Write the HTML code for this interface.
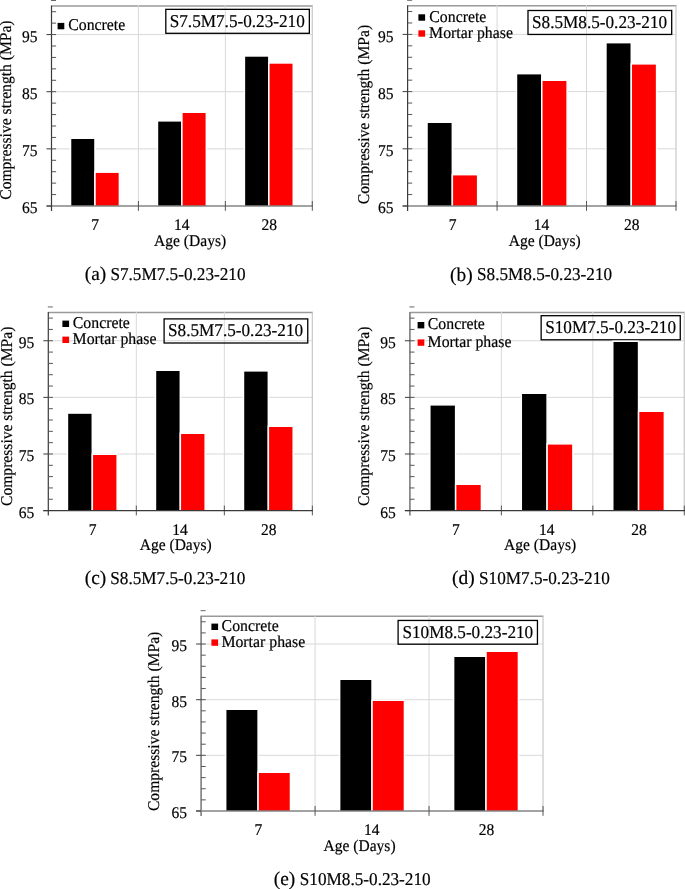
<!DOCTYPE html>
<html><head><meta charset="utf-8"><style>
html,body{margin:0;padding:0;background:#fff;}
svg{display:block;will-change:transform;}
text{font-family:"Liberation Serif", serif;fill:#000;text-rendering:geometricPrecision;stroke:#000;stroke-width:0.18px;}
</style></head><body>
<svg width="685" height="889" viewBox="0 0 685 889">
<rect width="685" height="889" fill="#fff"/>
<line x1="51.5" y1="148.86" x2="312.3" y2="148.86" stroke="#d9d9d9" stroke-width="1"/>
<line x1="51.5" y1="91.71" x2="312.3" y2="91.71" stroke="#d9d9d9" stroke-width="1"/>
<line x1="51.5" y1="34.57" x2="312.3" y2="34.57" stroke="#d9d9d9" stroke-width="1"/>
<line x1="51.5" y1="6" x2="312.8" y2="6" stroke="#9a9a9a" stroke-width="1.6"/>
<line x1="138.43" y1="5.2" x2="138.43" y2="206" stroke="#d9d9d9" stroke-width="1"/>
<line x1="225.37" y1="5.2" x2="225.37" y2="206" stroke="#d9d9d9" stroke-width="1"/>
<line x1="312.3" y1="6" x2="312.3" y2="206" stroke="#cccccc" stroke-width="1.3"/>
<rect x="165.8" y="9.35" width="143.55" height="23.95" fill="none" stroke="#000" stroke-width="1.3"/>
<text transform="translate(169.68,27) scale(1,1.05)" font-size="17.2">S7.5M7.5-0.23-210</text>
<rect x="70.53" y="138.25" width="24.44" height="68.5" fill="#000" stroke="#fff" stroke-width="1.5"/>
<rect x="94.97" y="172.15" width="24.44" height="34.6" fill="#ff0000" stroke="#fff" stroke-width="1.5"/>
<rect x="157.46" y="120.85" width="24.44" height="85.9" fill="#000" stroke="#fff" stroke-width="1.5"/>
<rect x="181.9" y="112.25" width="24.44" height="94.5" fill="#ff0000" stroke="#fff" stroke-width="1.5"/>
<rect x="244.4" y="55.95" width="24.44" height="150.8" fill="#000" stroke="#fff" stroke-width="1.5"/>
<rect x="268.83" y="62.95" width="24.44" height="143.8" fill="#ff0000" stroke="#fff" stroke-width="1.5"/>
<line x1="46.5" y1="206" x2="312.9" y2="206" stroke="#858585" stroke-width="1.7"/>
<line x1="138.43" y1="201" x2="138.43" y2="210.8" stroke="#555" stroke-width="1"/>
<line x1="225.37" y1="201" x2="225.37" y2="210.8" stroke="#555" stroke-width="1"/>
<line x1="312.3" y1="201" x2="312.3" y2="210.8" stroke="#555" stroke-width="1"/>
<line x1="51.5" y1="5.5" x2="51.5" y2="211" stroke="#3a3a3a" stroke-width="1.2"/>
<line x1="46.5" y1="206" x2="51.5" y2="206" stroke="#3a3a3a" stroke-width="1"/>
<line x1="46.5" y1="148.86" x2="51.5" y2="148.86" stroke="#3a3a3a" stroke-width="1"/>
<line x1="46.5" y1="91.71" x2="51.5" y2="91.71" stroke="#3a3a3a" stroke-width="1"/>
<line x1="46.5" y1="34.57" x2="51.5" y2="34.57" stroke="#3a3a3a" stroke-width="1"/>
<line x1="51.5" y1="194.57" x2="56.1" y2="194.57" stroke="#555" stroke-width="1"/>
<line x1="51.5" y1="183.14" x2="56.1" y2="183.14" stroke="#555" stroke-width="1"/>
<line x1="51.5" y1="171.71" x2="56.1" y2="171.71" stroke="#555" stroke-width="1"/>
<line x1="51.5" y1="160.29" x2="56.1" y2="160.29" stroke="#555" stroke-width="1"/>
<line x1="51.5" y1="148.86" x2="56.1" y2="148.86" stroke="#555" stroke-width="1"/>
<line x1="51.5" y1="137.43" x2="56.1" y2="137.43" stroke="#555" stroke-width="1"/>
<line x1="51.5" y1="126" x2="56.1" y2="126" stroke="#555" stroke-width="1"/>
<line x1="51.5" y1="114.57" x2="56.1" y2="114.57" stroke="#555" stroke-width="1"/>
<line x1="51.5" y1="103.14" x2="56.1" y2="103.14" stroke="#555" stroke-width="1"/>
<line x1="51.5" y1="91.71" x2="56.1" y2="91.71" stroke="#555" stroke-width="1"/>
<line x1="51.5" y1="80.29" x2="56.1" y2="80.29" stroke="#555" stroke-width="1"/>
<line x1="51.5" y1="68.86" x2="56.1" y2="68.86" stroke="#555" stroke-width="1"/>
<line x1="51.5" y1="57.43" x2="56.1" y2="57.43" stroke="#555" stroke-width="1"/>
<line x1="51.5" y1="46" x2="56.1" y2="46" stroke="#555" stroke-width="1"/>
<line x1="51.5" y1="34.57" x2="56.1" y2="34.57" stroke="#555" stroke-width="1"/>
<line x1="51.5" y1="23.14" x2="56.1" y2="23.14" stroke="#555" stroke-width="1"/>
<line x1="51.5" y1="11.71" x2="56.1" y2="11.71" stroke="#555" stroke-width="1"/>
<line x1="51" y1="0.5" x2="56" y2="0.5" stroke="#666" stroke-width="1"/>
<text transform="translate(21.91,213) scale(1,1.05)" font-size="15.55">65</text>
<text transform="translate(21.91,156) scale(1,1.05)" font-size="15.55">75</text>
<text transform="translate(21.91,99) scale(1,1.05)" font-size="15.55">85</text>
<text transform="translate(21.91,42) scale(1,1.05)" font-size="15.55">95</text>
<text transform="translate(91.36,230) scale(1,1.05)" font-size="15.55">7</text>
<text transform="translate(173.9,230) scale(1,1.05)" font-size="15.55">14</text>
<text transform="translate(261.51,230) scale(1,1.05)" font-size="15.55">28</text>
<text transform="translate(154.06,246) scale(1,1.05)" font-size="15.55">Age (Days)</text>
<text transform="translate(11.04,199.76) rotate(-90) scale(1,1.05)" font-size="15.6">Compressive strength (MPa)</text>
<rect x="57.6" y="22.9" width="6.7" height="6.4" fill="#000"/>
<text transform="translate(68.22,30) scale(1,1.05)" font-size="15.8">Concrete</text>
<text transform="translate(84.67,280) scale(1,1.0)" font-size="19.4">(a)</text>
<text transform="translate(110.38,280) scale(1,1.05)" font-size="17.2">S7.5M7.5-0.23-210</text>
<line x1="407.6" y1="148.8" x2="676" y2="148.8" stroke="#d9d9d9" stroke-width="1"/>
<line x1="407.6" y1="91.6" x2="676" y2="91.6" stroke="#d9d9d9" stroke-width="1"/>
<line x1="407.6" y1="34.4" x2="676" y2="34.4" stroke="#d9d9d9" stroke-width="1"/>
<line x1="407.6" y1="5.8" x2="676.5" y2="5.8" stroke="#9a9a9a" stroke-width="1.6"/>
<line x1="497.07" y1="5" x2="497.07" y2="206" stroke="#d9d9d9" stroke-width="1"/>
<line x1="586.53" y1="5" x2="586.53" y2="206" stroke="#d9d9d9" stroke-width="1"/>
<line x1="676" y1="5.8" x2="676" y2="206" stroke="#cccccc" stroke-width="1.3"/>
<rect x="528" y="10.5" width="143.7" height="23.95" fill="none" stroke="#000" stroke-width="1.3"/>
<text transform="translate(531.98,28) scale(1,1.05)" font-size="17.2">S8.5M8.5-0.23-210</text>
<rect x="427" y="122.25" width="25.33" height="84.5" fill="#000" stroke="#fff" stroke-width="1.5"/>
<rect x="452.33" y="174.65" width="25.33" height="32.1" fill="#ff0000" stroke="#fff" stroke-width="1.5"/>
<rect x="516.47" y="73.65" width="25.33" height="133.1" fill="#000" stroke="#fff" stroke-width="1.5"/>
<rect x="541.8" y="80.25" width="25.33" height="126.5" fill="#ff0000" stroke="#fff" stroke-width="1.5"/>
<rect x="605.94" y="42.65" width="25.33" height="164.1" fill="#000" stroke="#fff" stroke-width="1.5"/>
<rect x="631.27" y="63.85" width="25.33" height="142.9" fill="#ff0000" stroke="#fff" stroke-width="1.5"/>
<line x1="402.6" y1="206" x2="676.6" y2="206" stroke="#858585" stroke-width="1.7"/>
<line x1="497.07" y1="201" x2="497.07" y2="210.8" stroke="#555" stroke-width="1"/>
<line x1="586.53" y1="201" x2="586.53" y2="210.8" stroke="#555" stroke-width="1"/>
<line x1="676" y1="201" x2="676" y2="210.8" stroke="#555" stroke-width="1"/>
<line x1="407.6" y1="5.3" x2="407.6" y2="211" stroke="#3a3a3a" stroke-width="1.2"/>
<line x1="402.6" y1="206" x2="407.6" y2="206" stroke="#3a3a3a" stroke-width="1"/>
<line x1="402.6" y1="148.8" x2="407.6" y2="148.8" stroke="#3a3a3a" stroke-width="1"/>
<line x1="402.6" y1="91.6" x2="407.6" y2="91.6" stroke="#3a3a3a" stroke-width="1"/>
<line x1="402.6" y1="34.4" x2="407.6" y2="34.4" stroke="#3a3a3a" stroke-width="1"/>
<line x1="407.6" y1="194.56" x2="412.2" y2="194.56" stroke="#555" stroke-width="1"/>
<line x1="407.6" y1="183.12" x2="412.2" y2="183.12" stroke="#555" stroke-width="1"/>
<line x1="407.6" y1="171.68" x2="412.2" y2="171.68" stroke="#555" stroke-width="1"/>
<line x1="407.6" y1="160.24" x2="412.2" y2="160.24" stroke="#555" stroke-width="1"/>
<line x1="407.6" y1="148.8" x2="412.2" y2="148.8" stroke="#555" stroke-width="1"/>
<line x1="407.6" y1="137.36" x2="412.2" y2="137.36" stroke="#555" stroke-width="1"/>
<line x1="407.6" y1="125.92" x2="412.2" y2="125.92" stroke="#555" stroke-width="1"/>
<line x1="407.6" y1="114.48" x2="412.2" y2="114.48" stroke="#555" stroke-width="1"/>
<line x1="407.6" y1="103.04" x2="412.2" y2="103.04" stroke="#555" stroke-width="1"/>
<line x1="407.6" y1="91.6" x2="412.2" y2="91.6" stroke="#555" stroke-width="1"/>
<line x1="407.6" y1="80.16" x2="412.2" y2="80.16" stroke="#555" stroke-width="1"/>
<line x1="407.6" y1="68.72" x2="412.2" y2="68.72" stroke="#555" stroke-width="1"/>
<line x1="407.6" y1="57.28" x2="412.2" y2="57.28" stroke="#555" stroke-width="1"/>
<line x1="407.6" y1="45.84" x2="412.2" y2="45.84" stroke="#555" stroke-width="1"/>
<line x1="407.6" y1="34.4" x2="412.2" y2="34.4" stroke="#555" stroke-width="1"/>
<line x1="407.6" y1="22.96" x2="412.2" y2="22.96" stroke="#555" stroke-width="1"/>
<line x1="407.6" y1="11.52" x2="412.2" y2="11.52" stroke="#555" stroke-width="1"/>
<line x1="407.1" y1="0.3" x2="412.1" y2="0.3" stroke="#666" stroke-width="1"/>
<text transform="translate(378.01,213) scale(1,1.05)" font-size="15.55">65</text>
<text transform="translate(378.01,156) scale(1,1.05)" font-size="15.55">75</text>
<text transform="translate(378.01,99) scale(1,1.05)" font-size="15.55">85</text>
<text transform="translate(378.01,42) scale(1,1.05)" font-size="15.55">95</text>
<text transform="translate(448.73,230) scale(1,1.05)" font-size="15.55">7</text>
<text transform="translate(533.8,230) scale(1,1.05)" font-size="15.55">14</text>
<text transform="translate(623.94,230) scale(1,1.05)" font-size="15.55">28</text>
<text transform="translate(508.66,246) scale(1,1.05)" font-size="15.55">Age (Days)</text>
<text transform="translate(368.84,204.16) rotate(-90) scale(1,1.05)" font-size="15.6">Compressive strength (MPa)</text>
<rect x="418.4" y="14.3" width="6.7" height="6.4" fill="#000"/>
<text transform="translate(429.32,22) scale(1,1.05)" font-size="15.8">Concrete</text>
<rect x="418.4" y="30.3" width="6.7" height="6.4" fill="#ff0000"/>
<text transform="translate(429.12,38) scale(1,1.05)" font-size="15.8">Mortar phase</text>
<text transform="translate(450.07,281) scale(1,1.0)" font-size="19.4">(b)</text>
<text transform="translate(476.98,280) scale(1,1.05)" font-size="17.2">S8.5M8.5-0.23-210</text>
<line x1="48.3" y1="453.99" x2="312.35" y2="453.99" stroke="#d9d9d9" stroke-width="1"/>
<line x1="48.3" y1="397.37" x2="312.35" y2="397.37" stroke="#d9d9d9" stroke-width="1"/>
<line x1="48.3" y1="340.76" x2="312.35" y2="340.76" stroke="#d9d9d9" stroke-width="1"/>
<line x1="48.3" y1="312.45" x2="312.85" y2="312.45" stroke="#9a9a9a" stroke-width="1.6"/>
<line x1="136.32" y1="311.65" x2="136.32" y2="510.6" stroke="#d9d9d9" stroke-width="1"/>
<line x1="224.33" y1="311.65" x2="224.33" y2="510.6" stroke="#d9d9d9" stroke-width="1"/>
<line x1="312.35" y1="312.45" x2="312.35" y2="510.6" stroke="#cccccc" stroke-width="1.3"/>
<rect x="164.1" y="318.9" width="143.65" height="24.1" fill="none" stroke="#000" stroke-width="1.3"/>
<text transform="translate(167.98,336) scale(1,1.05)" font-size="17.2">S8.5M7.5-0.23-210</text>
<rect x="67.44" y="413.05" width="24.86" height="98.3" fill="#000" stroke="#fff" stroke-width="1.5"/>
<rect x="92.31" y="454.25" width="24.86" height="57.1" fill="#ff0000" stroke="#fff" stroke-width="1.5"/>
<rect x="155.46" y="370.25" width="24.86" height="141.1" fill="#000" stroke="#fff" stroke-width="1.5"/>
<rect x="180.32" y="433.25" width="24.86" height="78.1" fill="#ff0000" stroke="#fff" stroke-width="1.5"/>
<rect x="243.48" y="370.85" width="24.86" height="140.5" fill="#000" stroke="#fff" stroke-width="1.5"/>
<rect x="268.34" y="426.25" width="24.86" height="85.1" fill="#ff0000" stroke="#fff" stroke-width="1.5"/>
<line x1="136.32" y1="505.6" x2="136.32" y2="515.4" stroke="#555" stroke-width="1"/>
<line x1="224.33" y1="505.6" x2="224.33" y2="515.4" stroke="#555" stroke-width="1"/>
<line x1="312.35" y1="505.6" x2="312.35" y2="515.4" stroke="#555" stroke-width="1"/>
<line x1="48.3" y1="311.95" x2="48.3" y2="515.6" stroke="#3a3a3a" stroke-width="1.2"/>
<line x1="43.3" y1="510.6" x2="312.95" y2="510.6" stroke="#3a3a3a" stroke-width="1.2"/>
<line x1="43.3" y1="510.6" x2="48.3" y2="510.6" stroke="#3a3a3a" stroke-width="1"/>
<line x1="43.3" y1="453.99" x2="48.3" y2="453.99" stroke="#3a3a3a" stroke-width="1"/>
<line x1="43.3" y1="397.37" x2="48.3" y2="397.37" stroke="#3a3a3a" stroke-width="1"/>
<line x1="43.3" y1="340.76" x2="48.3" y2="340.76" stroke="#3a3a3a" stroke-width="1"/>
<line x1="48.3" y1="499.28" x2="52.9" y2="499.28" stroke="#555" stroke-width="1"/>
<line x1="48.3" y1="487.95" x2="52.9" y2="487.95" stroke="#555" stroke-width="1"/>
<line x1="48.3" y1="476.63" x2="52.9" y2="476.63" stroke="#555" stroke-width="1"/>
<line x1="48.3" y1="465.31" x2="52.9" y2="465.31" stroke="#555" stroke-width="1"/>
<line x1="48.3" y1="453.99" x2="52.9" y2="453.99" stroke="#555" stroke-width="1"/>
<line x1="48.3" y1="442.66" x2="52.9" y2="442.66" stroke="#555" stroke-width="1"/>
<line x1="48.3" y1="431.34" x2="52.9" y2="431.34" stroke="#555" stroke-width="1"/>
<line x1="48.3" y1="420.02" x2="52.9" y2="420.02" stroke="#555" stroke-width="1"/>
<line x1="48.3" y1="408.69" x2="52.9" y2="408.69" stroke="#555" stroke-width="1"/>
<line x1="48.3" y1="397.37" x2="52.9" y2="397.37" stroke="#555" stroke-width="1"/>
<line x1="48.3" y1="386.05" x2="52.9" y2="386.05" stroke="#555" stroke-width="1"/>
<line x1="48.3" y1="374.73" x2="52.9" y2="374.73" stroke="#555" stroke-width="1"/>
<line x1="48.3" y1="363.4" x2="52.9" y2="363.4" stroke="#555" stroke-width="1"/>
<line x1="48.3" y1="352.08" x2="52.9" y2="352.08" stroke="#555" stroke-width="1"/>
<line x1="48.3" y1="340.76" x2="52.9" y2="340.76" stroke="#555" stroke-width="1"/>
<line x1="48.3" y1="329.43" x2="52.9" y2="329.43" stroke="#555" stroke-width="1"/>
<line x1="48.3" y1="318.11" x2="52.9" y2="318.11" stroke="#555" stroke-width="1"/>
<line x1="47.8" y1="306.95" x2="52.8" y2="306.95" stroke="#666" stroke-width="1"/>
<text transform="translate(18.71,518) scale(1,1.05)" font-size="15.55">65</text>
<text transform="translate(18.71,461) scale(1,1.05)" font-size="15.55">75</text>
<text transform="translate(18.71,404) scale(1,1.05)" font-size="15.55">85</text>
<text transform="translate(18.71,348) scale(1,1.05)" font-size="15.55">95</text>
<text transform="translate(88.7,535) scale(1,1.05)" font-size="15.55">7</text>
<text transform="translate(172.33,535) scale(1,1.05)" font-size="15.55">14</text>
<text transform="translate(261.01,535) scale(1,1.05)" font-size="15.55">28</text>
<text transform="translate(139.66,550) scale(1,1.05)" font-size="15.55">Age (Days)</text>
<text transform="translate(12.14,505.96) rotate(-90) scale(1,1.05)" font-size="15.6">Compressive strength (MPa)</text>
<rect x="62.4" y="320.6" width="6.7" height="6.4" fill="#000"/>
<text transform="translate(72.82,328) scale(1,1.05)" font-size="15.8">Concrete</text>
<rect x="62.4" y="336.6" width="6.7" height="6.4" fill="#ff0000"/>
<text transform="translate(72.62,344) scale(1,1.05)" font-size="15.8">Mortar phase</text>
<text transform="translate(84.77,584) scale(1,1.0)" font-size="19.4">(c)</text>
<text transform="translate(110.28,584) scale(1,1.05)" font-size="17.2">S8.5M7.5-0.23-210</text>
<line x1="409.9" y1="453.99" x2="684.3" y2="453.99" stroke="#d9d9d9" stroke-width="1"/>
<line x1="409.9" y1="397.37" x2="684.3" y2="397.37" stroke="#d9d9d9" stroke-width="1"/>
<line x1="409.9" y1="340.76" x2="684.3" y2="340.76" stroke="#d9d9d9" stroke-width="1"/>
<line x1="409.9" y1="312.45" x2="684.8" y2="312.45" stroke="#9a9a9a" stroke-width="1.6"/>
<line x1="501.37" y1="311.65" x2="501.37" y2="510.6" stroke="#d9d9d9" stroke-width="1"/>
<line x1="592.83" y1="311.65" x2="592.83" y2="510.6" stroke="#d9d9d9" stroke-width="1"/>
<line x1="684.3" y1="312.45" x2="684.3" y2="510.6" stroke="#cccccc" stroke-width="1.3"/>
<rect x="541.15" y="315.7" width="139.1" height="24.1" fill="none" stroke="#000" stroke-width="1.3"/>
<text transform="translate(545.18,333) scale(1,1.05)" font-size="17.2">S10M7.5-0.23-210</text>
<rect x="429.82" y="404.85" width="25.81" height="106.5" fill="#000" stroke="#fff" stroke-width="1.5"/>
<rect x="455.63" y="484.25" width="25.81" height="27.1" fill="#ff0000" stroke="#fff" stroke-width="1.5"/>
<rect x="521.29" y="393.25" width="25.81" height="118.1" fill="#000" stroke="#fff" stroke-width="1.5"/>
<rect x="547.1" y="443.85" width="25.81" height="67.5" fill="#ff0000" stroke="#fff" stroke-width="1.5"/>
<rect x="612.76" y="341.25" width="25.81" height="170.1" fill="#000" stroke="#fff" stroke-width="1.5"/>
<rect x="638.57" y="411.25" width="25.81" height="100.1" fill="#ff0000" stroke="#fff" stroke-width="1.5"/>
<line x1="501.37" y1="505.6" x2="501.37" y2="515.4" stroke="#555" stroke-width="1"/>
<line x1="592.83" y1="505.6" x2="592.83" y2="515.4" stroke="#555" stroke-width="1"/>
<line x1="684.3" y1="505.6" x2="684.3" y2="515.4" stroke="#555" stroke-width="1"/>
<line x1="409.9" y1="311.95" x2="409.9" y2="515.6" stroke="#858585" stroke-width="1.7"/>
<line x1="404.9" y1="510.6" x2="684.9" y2="510.6" stroke="#3a3a3a" stroke-width="1.2"/>
<line x1="404.9" y1="510.6" x2="409.9" y2="510.6" stroke="#3a3a3a" stroke-width="1"/>
<line x1="404.9" y1="453.99" x2="409.9" y2="453.99" stroke="#3a3a3a" stroke-width="1"/>
<line x1="404.9" y1="397.37" x2="409.9" y2="397.37" stroke="#3a3a3a" stroke-width="1"/>
<line x1="404.9" y1="340.76" x2="409.9" y2="340.76" stroke="#3a3a3a" stroke-width="1"/>
<line x1="409.9" y1="499.28" x2="414.5" y2="499.28" stroke="#555" stroke-width="1"/>
<line x1="409.9" y1="487.95" x2="414.5" y2="487.95" stroke="#555" stroke-width="1"/>
<line x1="409.9" y1="476.63" x2="414.5" y2="476.63" stroke="#555" stroke-width="1"/>
<line x1="409.9" y1="465.31" x2="414.5" y2="465.31" stroke="#555" stroke-width="1"/>
<line x1="409.9" y1="453.99" x2="414.5" y2="453.99" stroke="#555" stroke-width="1"/>
<line x1="409.9" y1="442.66" x2="414.5" y2="442.66" stroke="#555" stroke-width="1"/>
<line x1="409.9" y1="431.34" x2="414.5" y2="431.34" stroke="#555" stroke-width="1"/>
<line x1="409.9" y1="420.02" x2="414.5" y2="420.02" stroke="#555" stroke-width="1"/>
<line x1="409.9" y1="408.69" x2="414.5" y2="408.69" stroke="#555" stroke-width="1"/>
<line x1="409.9" y1="397.37" x2="414.5" y2="397.37" stroke="#555" stroke-width="1"/>
<line x1="409.9" y1="386.05" x2="414.5" y2="386.05" stroke="#555" stroke-width="1"/>
<line x1="409.9" y1="374.73" x2="414.5" y2="374.73" stroke="#555" stroke-width="1"/>
<line x1="409.9" y1="363.4" x2="414.5" y2="363.4" stroke="#555" stroke-width="1"/>
<line x1="409.9" y1="352.08" x2="414.5" y2="352.08" stroke="#555" stroke-width="1"/>
<line x1="409.9" y1="340.76" x2="414.5" y2="340.76" stroke="#555" stroke-width="1"/>
<line x1="409.9" y1="329.43" x2="414.5" y2="329.43" stroke="#555" stroke-width="1"/>
<line x1="409.9" y1="318.11" x2="414.5" y2="318.11" stroke="#555" stroke-width="1"/>
<line x1="409.4" y1="306.95" x2="414.4" y2="306.95" stroke="#666" stroke-width="1"/>
<text transform="translate(380.31,518) scale(1,1.05)" font-size="15.55">65</text>
<text transform="translate(380.31,461) scale(1,1.05)" font-size="15.55">75</text>
<text transform="translate(380.31,404) scale(1,1.05)" font-size="15.55">85</text>
<text transform="translate(380.31,348) scale(1,1.05)" font-size="15.55">95</text>
<text transform="translate(452.03,535) scale(1,1.05)" font-size="15.55">7</text>
<text transform="translate(539.1,535) scale(1,1.05)" font-size="15.55">14</text>
<text transform="translate(631.24,535) scale(1,1.05)" font-size="15.55">28</text>
<text transform="translate(504.06,550) scale(1,1.05)" font-size="15.55">Age (Days)</text>
<text transform="translate(369.04,505.96) rotate(-90) scale(1,1.05)" font-size="15.6">Compressive strength (MPa)</text>
<rect x="417.6" y="322" width="6.7" height="6.4" fill="#000"/>
<text transform="translate(427.82,329) scale(1,1.05)" font-size="15.8">Concrete</text>
<rect x="417.6" y="339.4" width="6.7" height="6.4" fill="#ff0000"/>
<text transform="translate(427.62,347) scale(1,1.05)" font-size="15.8">Mortar phase</text>
<text transform="translate(452.07,584) scale(1,1.0)" font-size="19.4">(d)</text>
<text transform="translate(479.01,584) scale(1,1.05)" font-size="17.2">S10M7.5-0.23-210</text>
<line x1="201.1" y1="755.34" x2="543" y2="755.34" stroke="#d9d9d9" stroke-width="1"/>
<line x1="201.1" y1="699.69" x2="543" y2="699.69" stroke="#d9d9d9" stroke-width="1"/>
<line x1="201.1" y1="644.03" x2="543" y2="644.03" stroke="#d9d9d9" stroke-width="1"/>
<line x1="201.1" y1="616.2" x2="543.5" y2="616.2" stroke="#9a9a9a" stroke-width="1.6"/>
<line x1="315.07" y1="615.4" x2="315.07" y2="811" stroke="#d9d9d9" stroke-width="1"/>
<line x1="429.03" y1="615.4" x2="429.03" y2="811" stroke="#d9d9d9" stroke-width="1"/>
<line x1="543" y1="616.2" x2="543" y2="811" stroke="#cccccc" stroke-width="1.3"/>
<rect x="398.1" y="620.45" width="139.35" height="23.75" fill="none" stroke="#000" stroke-width="1.3"/>
<text transform="translate(402.38,638) scale(1,1.05)" font-size="17.2">S10M8.5-0.23-210</text>
<rect x="225.68" y="709.25" width="32.41" height="102.5" fill="#000" stroke="#fff" stroke-width="1.5"/>
<rect x="258.08" y="772.25" width="32.41" height="39.5" fill="#ff0000" stroke="#fff" stroke-width="1.5"/>
<rect x="339.64" y="679.25" width="32.41" height="132.5" fill="#000" stroke="#fff" stroke-width="1.5"/>
<rect x="372.05" y="700.25" width="32.41" height="111.5" fill="#ff0000" stroke="#fff" stroke-width="1.5"/>
<rect x="453.61" y="656.25" width="32.41" height="155.5" fill="#000" stroke="#fff" stroke-width="1.5"/>
<rect x="486.02" y="651.25" width="32.41" height="160.5" fill="#ff0000" stroke="#fff" stroke-width="1.5"/>
<line x1="196.1" y1="811" x2="543.6" y2="811" stroke="#858585" stroke-width="1.7"/>
<line x1="315.07" y1="806" x2="315.07" y2="815.8" stroke="#555" stroke-width="1"/>
<line x1="429.03" y1="806" x2="429.03" y2="815.8" stroke="#555" stroke-width="1"/>
<line x1="543" y1="806" x2="543" y2="815.8" stroke="#555" stroke-width="1"/>
<line x1="201.1" y1="615.7" x2="201.1" y2="816" stroke="#858585" stroke-width="1.7"/>
<line x1="196.1" y1="811" x2="201.1" y2="811" stroke="#3a3a3a" stroke-width="1"/>
<line x1="196.1" y1="755.34" x2="201.1" y2="755.34" stroke="#3a3a3a" stroke-width="1"/>
<line x1="196.1" y1="699.69" x2="201.1" y2="699.69" stroke="#3a3a3a" stroke-width="1"/>
<line x1="196.1" y1="644.03" x2="201.1" y2="644.03" stroke="#3a3a3a" stroke-width="1"/>
<line x1="201.1" y1="799.87" x2="205.7" y2="799.87" stroke="#555" stroke-width="1"/>
<line x1="201.1" y1="788.74" x2="205.7" y2="788.74" stroke="#555" stroke-width="1"/>
<line x1="201.1" y1="777.61" x2="205.7" y2="777.61" stroke="#555" stroke-width="1"/>
<line x1="201.1" y1="766.47" x2="205.7" y2="766.47" stroke="#555" stroke-width="1"/>
<line x1="201.1" y1="755.34" x2="205.7" y2="755.34" stroke="#555" stroke-width="1"/>
<line x1="201.1" y1="744.21" x2="205.7" y2="744.21" stroke="#555" stroke-width="1"/>
<line x1="201.1" y1="733.08" x2="205.7" y2="733.08" stroke="#555" stroke-width="1"/>
<line x1="201.1" y1="721.95" x2="205.7" y2="721.95" stroke="#555" stroke-width="1"/>
<line x1="201.1" y1="710.82" x2="205.7" y2="710.82" stroke="#555" stroke-width="1"/>
<line x1="201.1" y1="699.69" x2="205.7" y2="699.69" stroke="#555" stroke-width="1"/>
<line x1="201.1" y1="688.55" x2="205.7" y2="688.55" stroke="#555" stroke-width="1"/>
<line x1="201.1" y1="677.42" x2="205.7" y2="677.42" stroke="#555" stroke-width="1"/>
<line x1="201.1" y1="666.29" x2="205.7" y2="666.29" stroke="#555" stroke-width="1"/>
<line x1="201.1" y1="655.16" x2="205.7" y2="655.16" stroke="#555" stroke-width="1"/>
<line x1="201.1" y1="644.03" x2="205.7" y2="644.03" stroke="#555" stroke-width="1"/>
<line x1="201.1" y1="632.9" x2="205.7" y2="632.9" stroke="#555" stroke-width="1"/>
<line x1="201.1" y1="621.77" x2="205.7" y2="621.77" stroke="#555" stroke-width="1"/>
<line x1="200.6" y1="610.7" x2="205.6" y2="610.7" stroke="#666" stroke-width="1"/>
<text transform="translate(171.51,818) scale(1,1.05)" font-size="15.55">65</text>
<text transform="translate(171.51,762) scale(1,1.05)" font-size="15.55">75</text>
<text transform="translate(171.51,707) scale(1,1.05)" font-size="15.55">85</text>
<text transform="translate(171.51,651) scale(1,1.05)" font-size="15.55">95</text>
<text transform="translate(254.48,835) scale(1,1.05)" font-size="15.55">7</text>
<text transform="translate(364.05,835) scale(1,1.05)" font-size="15.55">14</text>
<text transform="translate(478.69,835) scale(1,1.05)" font-size="15.55">28</text>
<text transform="translate(323.46,851) scale(1,1.05)" font-size="15.55">Age (Days)</text>
<text transform="translate(159.44,811.06) rotate(-90) scale(1,1.05)" font-size="15.6">Compressive strength (MPa)</text>
<rect x="211.4" y="623.6" width="6.7" height="6.4" fill="#000"/>
<text transform="translate(221.62,631) scale(1,1.05)" font-size="15.8">Concrete</text>
<rect x="211.4" y="639.4" width="6.7" height="6.4" fill="#ff0000"/>
<text transform="translate(221.42,647) scale(1,1.05)" font-size="15.8">Mortar phase</text>
<text transform="translate(273.77,885) scale(1,1.0)" font-size="19.4">(e)</text>
<text transform="translate(299.81,885) scale(1,1.05)" font-size="17.2">S10M8.5-0.23-210</text>
</svg>
</body></html>
